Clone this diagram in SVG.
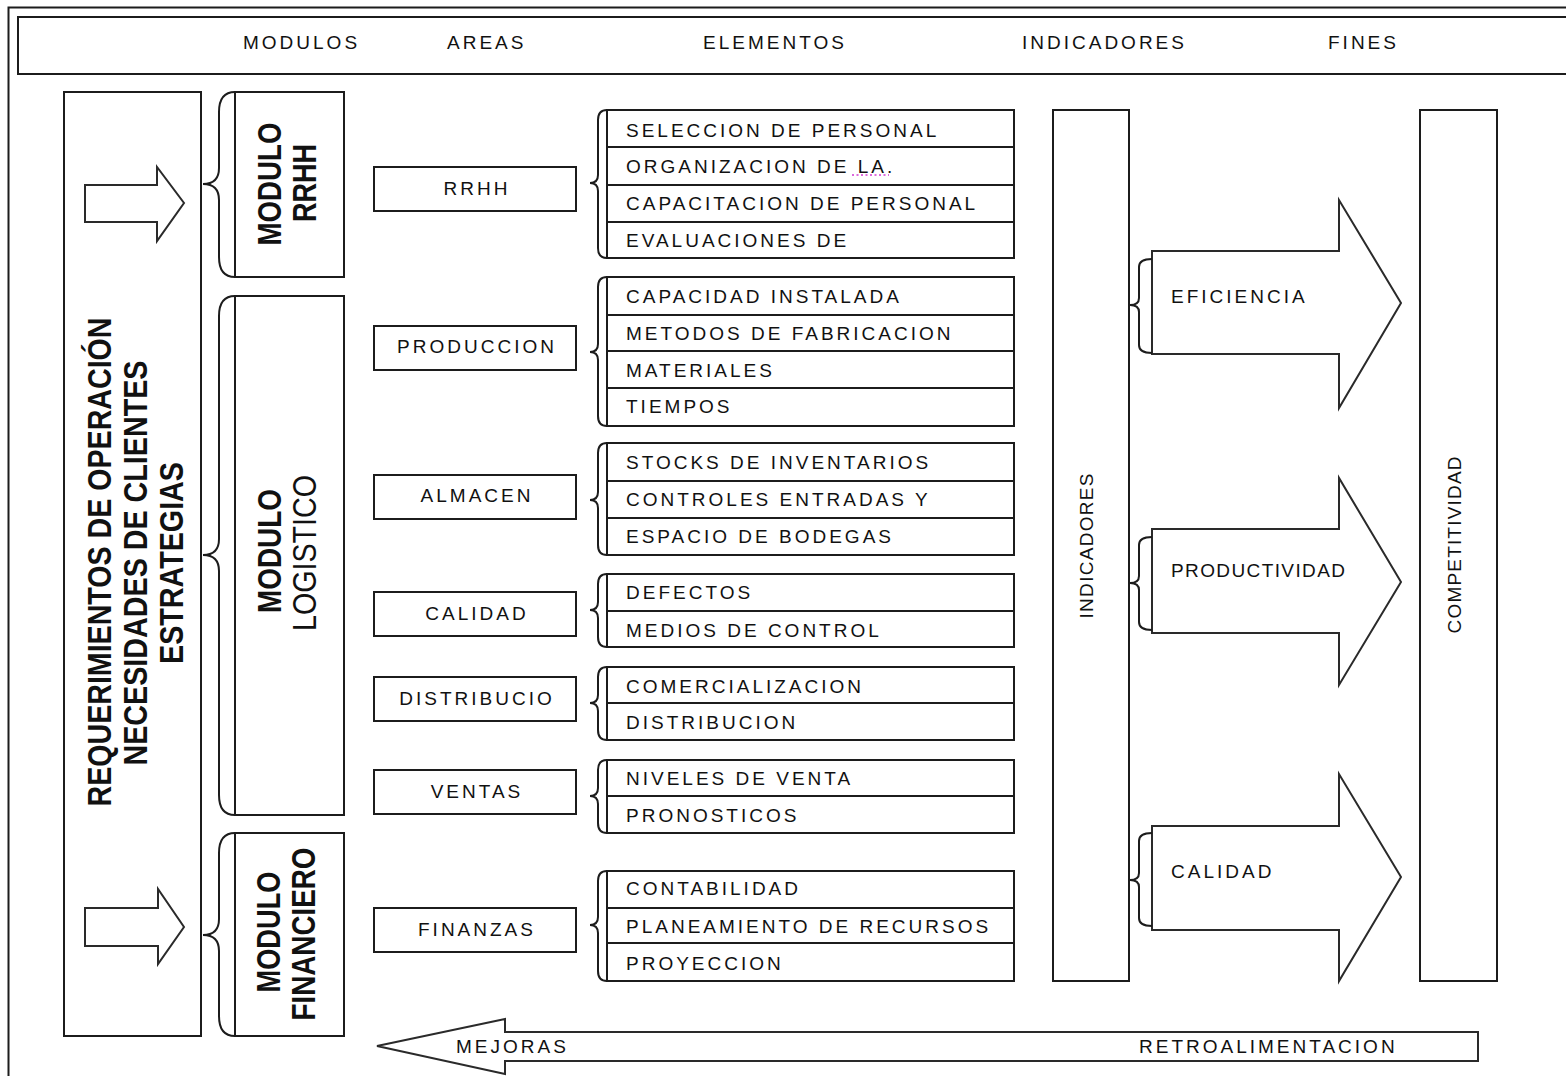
<svg xmlns="http://www.w3.org/2000/svg" width="1566" height="1076" viewBox="0 0 1566 1076">
  <style>
    .ln { fill: none; stroke: #1c1c1c; stroke-width: 2; }
    .bx { fill: #ffffff; stroke: #1c1c1c; stroke-width: 2; }
    .ar { fill: #ffffff; stroke: #2a2a2a; stroke-width: 2; stroke-linejoin: miter; }
    .t  { font-family: "Liberation Sans", Arial, sans-serif; font-size: 19px; letter-spacing: 3px; fill: #111111; }
    .big { font-family: "Liberation Sans Narrow", "Liberation Sans", Arial, sans-serif; font-size: 33px; font-weight: bold; fill: #111111; }
    .mod { font-family: "Liberation Sans", Arial, sans-serif; font-size: 34px; font-weight: bold; fill: #111111; }
    .modn { font-family: "Liberation Sans", Arial, sans-serif; font-size: 34px; font-weight: normal; fill: #111111; }
    .vt { font-family: "Liberation Sans", Arial, sans-serif; font-size: 19px; fill: #111111; }
  </style>

  <rect width="1566" height="1076" fill="#ffffff"/>

  <!-- outer frame and column header band -->
  <g id="frame">
    <rect class="ln" x="8.5" y="7.5" width="1600" height="1100"/>
    <rect class="ln" x="18" y="17" width="1600" height="57"/>
    <text class="t" x="243" y="49">MODULOS</text>
    <text class="t" x="447" y="49">AREAS</text>
    <text class="t" x="703" y="49">ELEMENTOS</text>
    <text class="t" x="1022" y="49">INDICADORES</text>
    <text class="t" x="1328" y="49">FINES</text>
  </g>

  <!-- inputs column -->
  <g id="requerimientos">
    <rect class="bx" x="64" y="92" width="137" height="944"/>
    <text class="big" transform="translate(111,562) rotate(-90)" text-anchor="middle" textLength="489" lengthAdjust="spacingAndGlyphs">REQUERIMIENTOS DE OPERACIÓN</text>
    <text class="big" transform="translate(147,563) rotate(-90)" text-anchor="middle" textLength="405" lengthAdjust="spacingAndGlyphs">NECESIDADES DE CLIENTES</text>
    <text class="big" transform="translate(183,563) rotate(-90)" text-anchor="middle" textLength="202" lengthAdjust="spacingAndGlyphs">ESTRATEGIAS</text>
  </g>

  <!-- modules -->
  <g id="modulo-rrhh">
    <rect class="bx" x="235" y="92" width="109" height="185"/>
    <text class="mod" transform="translate(281,184) rotate(-90)" text-anchor="middle" textLength="123" lengthAdjust="spacingAndGlyphs">MODULO</text>
    <text class="mod" transform="translate(316,183) rotate(-90)" text-anchor="middle" textLength="78" lengthAdjust="spacingAndGlyphs">RRHH</text>
  </g>
  <g id="modulo-logistico">
    <rect class="bx" x="235" y="296" width="109" height="519"/>
    <text class="mod" transform="translate(281,551) rotate(-90)" text-anchor="middle" textLength="124" lengthAdjust="spacingAndGlyphs">MODULO</text>
    <text class="modn" transform="translate(316,553) rotate(-90)" text-anchor="middle" textLength="156" lengthAdjust="spacingAndGlyphs">LOGISTICO</text>
  </g>
  <g id="modulo-financiero">
    <rect class="bx" x="235" y="833" width="109" height="203"/>
    <text class="mod" transform="translate(280,932) rotate(-90)" text-anchor="middle" textLength="121" lengthAdjust="spacingAndGlyphs">MODULO</text>
    <text class="mod" transform="translate(315,934) rotate(-90)" text-anchor="middle" textLength="173" lengthAdjust="spacingAndGlyphs">FINANCIERO</text>
  </g>

  <!-- areas -->
  <g id="area-rrhh">
    <rect class="bx" x="374" y="167" width="202" height="44"/>
    <text class="t" x="477" y="195" text-anchor="middle">RRHH</text>
  </g>
  <g id="area-produccion">
    <rect class="bx" x="374" y="326" width="202" height="44"/>
    <text class="t" x="477" y="353" text-anchor="middle">PRODUCCION</text>
  </g>
  <g id="area-almacen">
    <rect class="bx" x="374" y="475" width="202" height="44"/>
    <text class="t" x="477" y="502" text-anchor="middle">ALMACEN</text>
  </g>
  <g id="area-calidad">
    <rect class="bx" x="374" y="592" width="202" height="44"/>
    <text class="t" x="477" y="620" text-anchor="middle">CALIDAD</text>
  </g>
  <g id="area-distribucio">
    <rect class="bx" x="374" y="677" width="202" height="44"/>
    <text class="t" x="477" y="705" text-anchor="middle">DISTRIBUCIO</text>
  </g>
  <g id="area-ventas">
    <rect class="bx" x="374" y="770" width="202" height="44"/>
    <text class="t" x="477" y="798" text-anchor="middle">VENTAS</text>
  </g>
  <g id="area-finanzas">
    <rect class="bx" x="374" y="908" width="202" height="44"/>
    <text class="t" x="477" y="936" text-anchor="middle">FINANZAS</text>
  </g>

  <!-- element lists -->
  <g id="elementos-rrhh">
    <rect class="bx" x="607" y="110" width="407" height="148"/>
    <path class="ln" d="M607 147H1014M607 185H1014M607 222H1014"/>
    <text class="t" x="626" y="137">SELECCION DE PERSONAL</text>
    <text class="t" x="626" y="173">ORGANIZACION DE LA.</text>
    <path d="M852 175H889" fill="none" stroke="#d23ad2" stroke-width="1.5" stroke-dasharray="2 2.5"/>
    <text class="t" x="626" y="210">CAPACITACION DE PERSONAL</text>
    <text class="t" x="626" y="247">EVALUACIONES DE</text>
  </g>
  <g id="elementos-produccion">
    <rect class="bx" x="607" y="277" width="407" height="149"/>
    <path class="ln" d="M607 315H1014M607 351H1014M607 388H1014"/>
    <text class="t" x="626" y="303">CAPACIDAD INSTALADA</text>
    <text class="t" x="626" y="340">METODOS DE FABRICACION</text>
    <text class="t" x="626" y="377">MATERIALES</text>
    <text class="t" x="626" y="413">TIEMPOS</text>
  </g>
  <g id="elementos-almacen">
    <rect class="bx" x="607" y="443" width="407" height="112"/>
    <path class="ln" d="M607 481H1014M607 518H1014"/>
    <text class="t" x="626" y="469">STOCKS DE INVENTARIOS</text>
    <text class="t" x="626" y="506">CONTROLES ENTRADAS Y</text>
    <text class="t" x="626" y="543">ESPACIO DE BODEGAS</text>
  </g>
  <g id="elementos-calidad">
    <rect class="bx" x="607" y="574" width="407" height="73"/>
    <path class="ln" d="M607 611H1014"/>
    <text class="t" x="626" y="599">DEFECTOS</text>
    <text class="t" x="626" y="637">MEDIOS DE CONTROL</text>
  </g>
  <g id="elementos-distribucion">
    <rect class="bx" x="607" y="667" width="407" height="73"/>
    <path class="ln" d="M607 703H1014"/>
    <text class="t" x="626" y="693">COMERCIALIZACION</text>
    <text class="t" x="626" y="729">DISTRIBUCION</text>
  </g>
  <g id="elementos-ventas">
    <rect class="bx" x="607" y="760" width="407" height="73"/>
    <path class="ln" d="M607 796H1014"/>
    <text class="t" x="626" y="785">NIVELES DE VENTA</text>
    <text class="t" x="626" y="822">PRONOSTICOS</text>
  </g>
  <g id="elementos-finanzas">
    <rect class="bx" x="607" y="871" width="407" height="110"/>
    <path class="ln" d="M607 908H1014M607 943H1014"/>
    <text class="t" x="626" y="895">CONTABILIDAD</text>
    <text class="t" x="626" y="933">PLANEAMIENTO DE RECURSOS</text>
    <text class="t" x="626" y="970">PROYECCION</text>
  </g>

  <!-- indicator and goal columns -->
  <g id="indicadores">
    <rect class="bx" x="1053" y="110" width="76" height="871"/>
    <text class="vt" transform="translate(1093,546) rotate(-90)" text-anchor="middle" textLength="145" lengthAdjust="spacing">INDICADORES</text>
  </g>
  <g id="competitividad">
    <rect class="bx" x="1420" y="110" width="77" height="871"/>
    <text class="vt" transform="translate(1461,545) rotate(-90)" text-anchor="middle" textLength="177" lengthAdjust="spacing">COMPETITIVIDAD</text>
  </g>

  <!-- goal arrows -->
  <g id="eficiencia">
    <polygon class="ar" points="1152,251 1339,251 1339,200 1401,303 1339,408 1339,354 1152,354"/>
    <text class="t" x="1171" y="303">EFICIENCIA</text>
  </g>
  <g id="productividad">
    <polygon class="ar" points="1152,529 1339,529 1339,478 1401,582 1339,685 1339,633 1152,633"/>
    <text class="t" x="1171" y="577" textLength="177" lengthAdjust="spacing">PRODUCTIVIDAD</text>
  </g>
  <g id="calidad">
    <polygon class="ar" points="1152,826 1339,826 1339,774 1401,877 1339,981 1339,930 1152,930"/>
    <text class="t" x="1171" y="878">CALIDAD</text>
  </g>

  <!-- braces, input arrows and feedback arrow -->
  <g id="connectors">
    <!-- inputs into the module column -->
    <polygon class="ar" points="85,185 157,185 157,167 184,203 157,241 157,222 85,222"/>
    <polygon class="ar" points="85,908 158,908 158,889 184,927 158,964 158,946 85,946"/>

    <!-- module braces -->
    <path class="ln" d="M235 92Q219 92 219 112L219 168Q219 184 203 184Q219 184 219 200L219 257Q219 277 235 277"/>
    <path class="ln" d="M235 296Q219 296 219 316L219 539Q219 555 203 555Q219 555 219 571L219 795Q219 815 235 815"/>
    <path class="ln" d="M235 833Q219 833 219 853L219 919Q219 935 203 935Q219 935 219 951L219 1016Q219 1036 235 1036"/>

    <!-- element braces -->
    <path class="ln" d="M607 110Q598 110 598 120L598 175Q598 183 590 183Q598 183 598 191L598 248Q598 258 607 258"/>
    <path class="ln" d="M607 277Q598 277 598 287L598 344Q598 352 590 352Q598 352 598 360L598 416Q598 426 607 426"/>
    <path class="ln" d="M607 443Q598 443 598 453L598 492Q598 500 590 500Q598 500 598 508L598 545Q598 555 607 555"/>
    <path class="ln" d="M607 574Q598 574 598 584L598 602Q598 610 590 610Q598 610 598 618L598 637Q598 647 607 647"/>
    <path class="ln" d="M607 667Q598 667 598 677L598 695Q598 703 590 703Q598 703 598 711L598 730Q598 740 607 740"/>
    <path class="ln" d="M607 760Q598 760 598 770L598 788Q598 796 590 796Q598 796 598 804L598 823Q598 833 607 833"/>
    <path class="ln" d="M607 871Q598 871 598 881L598 917Q598 925 590 925Q598 925 598 933L598 971Q598 981 607 981"/>

    <!-- indicator braces -->
    <path class="ln" d="M1152 259Q1139 259 1139 267L1139 298Q1139 305 1130 305Q1139 305 1139 312L1139 345Q1139 353 1152 353"/>
    <path class="ln" d="M1152 537Q1139 537 1139 545L1139 576Q1139 583 1130 583Q1139 583 1139 590L1139 622Q1139 630 1152 630"/>
    <path class="ln" d="M1152 833Q1139 833 1139 841L1139 873Q1139 880 1130 880Q1139 880 1139 887L1139 918Q1139 926 1152 926"/>

    <!-- feedback loop -->
    <polygon class="ar" points="1478,1032 505,1032 505,1019 377,1046 505,1074 505,1061 1478,1061"/>
    <text class="t" x="456" y="1053">MEJORAS</text>
    <text class="t" x="1139" y="1053">RETROALIMENTACION</text>
  </g>
</svg>
